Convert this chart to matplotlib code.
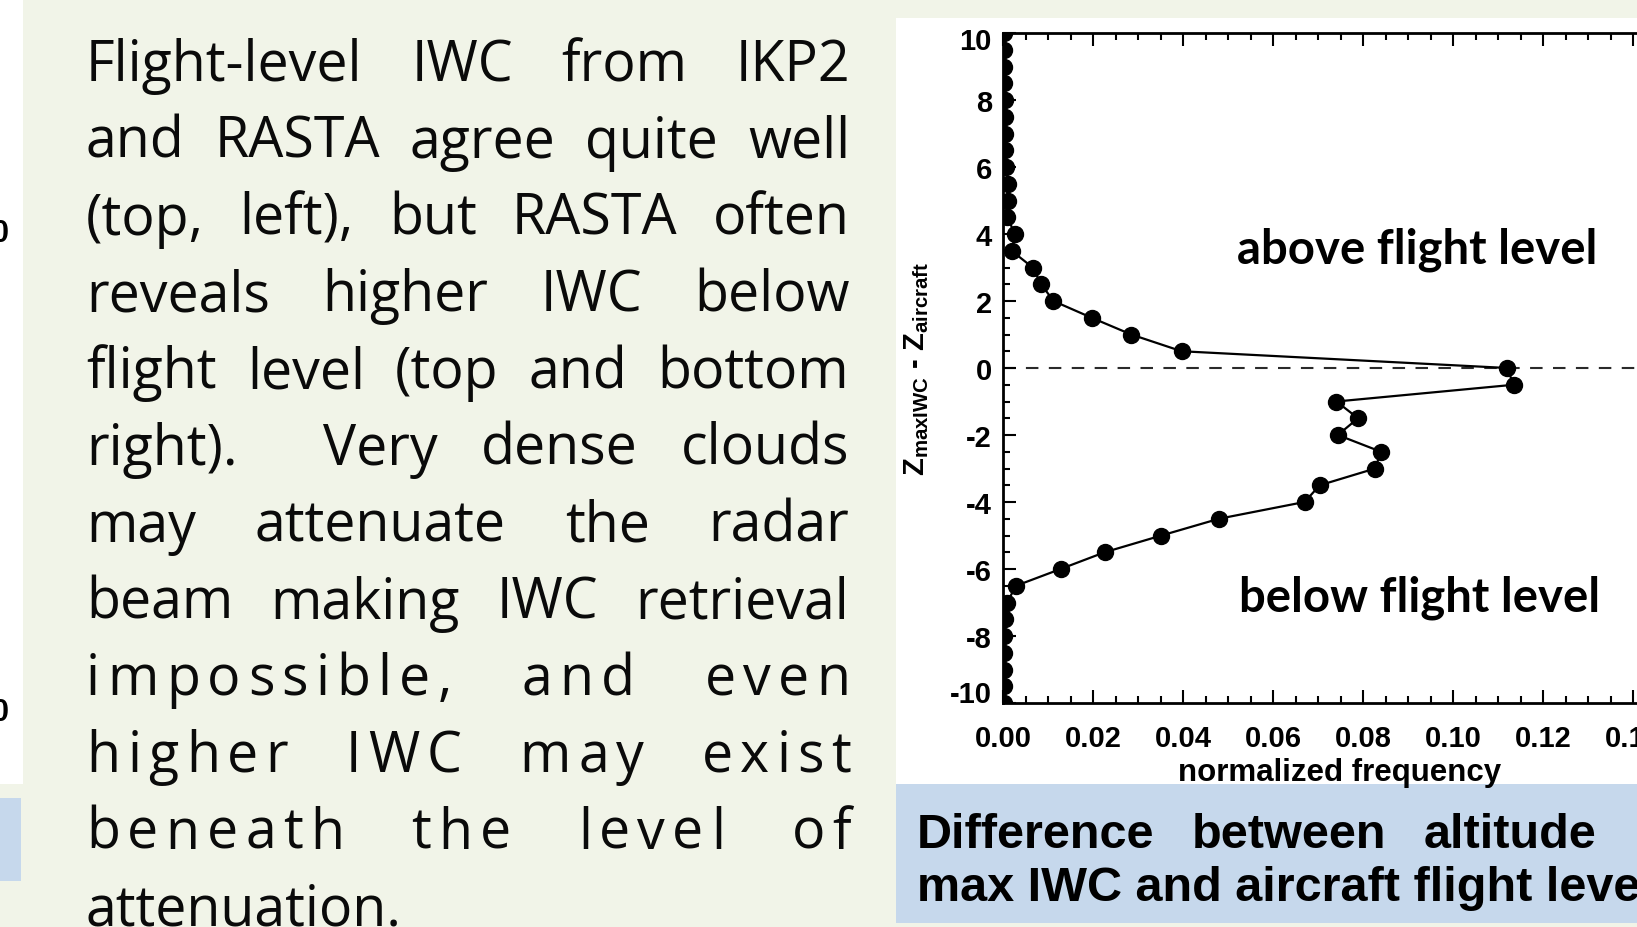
import matplotlib
matplotlib.use("Agg")
import matplotlib.pyplot as plt
from matplotlib import font_manager as fm
from matplotlib.ft2font import FT2Font
from matplotlib.patches import Rectangle
from matplotlib.transforms import ScaledTranslation
from matplotlib.ticker import MultipleLocator, FixedLocator, FormatStrFormatter

# ---------------- data ----------------
offset_km = [10.0, 9.5, 9.0, 8.5, 8.0, 7.5, 7.0, 6.5, 6.0, 5.5, 5.0, 4.5, 4.0,
             3.5, 3.0, 2.5, 2.0, 1.5, 1.0, 0.5, 0.0, -0.5, -1.0, -1.5, -2.0,
             -2.5, -3.0, -3.5, -4.0, -4.5, -5.0, -5.5, -6.0, -6.5, -7.0, -7.5,
             -8.0, -8.5, -9.0, -9.5, -10.0]
norm_freq = [0.0002, 0.0003, 0.0003, 0.0003, 0.0004, 0.0004, 0.0005, 0.0005,
             0.0006, 0.0010, 0.0010, 0.0009, 0.0027, 0.0019, 0.0066, 0.0085,
             0.0112, 0.0197, 0.0285, 0.0397, 0.1120, 0.1135, 0.0741, 0.0789,
             0.0744, 0.0840, 0.0827, 0.0704, 0.0670, 0.0480, 0.0352, 0.0226,
             0.0128, 0.0029, 0.0009, 0.0004, 0.0003, 0.0003, 0.0003, 0.0003,
             0.0002]
x_ticks = [0.00, 0.02, 0.04, 0.06, 0.08, 0.10, 0.12, 0.14, 0.16]
y_ticks = [-10, -8, -6, -4, -2, 0, 2, 4, 6, 8, 10]

x_label = "normalized frequency"
y_label = r"$\mathbf{Z_{maxIWC}}$ - $\mathbf{Z_{aircraft}}$"
label_above = "above flight level"
label_below = "below flight level"

body_lines = [
    "Flight-level IWC from IKP2",
    "and RASTA agree quite well",
    "(top, left), but RASTA often",
    "reveals higher IWC below",
    "flight level (top and bottom",
    "right).  Very dense clouds",
    "may attenuate the radar",
    "beam making IWC retrieval",
    "impossible, and even",
    "higher IWC may exist",
    "beneath the level of",
    "attenuation.",
]
body_letter_spaced = [False] * 8 + [True] * 3 + [False]
body_justified = [True] * 11 + [False]

caption_line1 = "Difference between altitude"
caption_line2 = "max IWC and aircraft flight level"

# ---------------- figure ----------------
W_PX, H_PX, DPI = 1637, 928, 100
plt.rcParams["axes.unicode_minus"] = False
plt.rcParams["mathtext.fontset"] = "custom"
plt.rcParams["mathtext.bf"] = "Liberation Sans:bold"
plt.rcParams["mathtext.rm"] = "Liberation Sans:bold"

BG = "#F1F4E8"
BLUE = "#C6D8EC"

fig = plt.figure(figsize=(W_PX / DPI, H_PX / DPI), dpi=DPI)
fig.patch.set_facecolor(BG)


def fx(px):
    return px / W_PX


def fy(py):
    return 1 - py / H_PX


def frect(x0, y0, x1, y1, color):
    r = Rectangle((fx(x0), fy(y1)), fx(x1) - fx(x0), fy(y0) - fy(y1),
                  transform=fig.transFigure, facecolor=color, edgecolor="none",
                  zorder=-10)
    fig.add_artist(r)


# panels
frect(0, 0, 23, 785, "white")
frect(0, 799, 21, 882, BLUE)
frect(896, 19, W_PX + 5, 785, "white")
frect(896, 785, W_PX + 5, 924, BLUE)

# partial labels at the far left
for yy in (234, 713):
    fig.text(fx(9), fy(yy), "0", ha="right", va="center", fontsize=22,
             fontweight="bold", family="Liberation Sans")

# ---------------- justified body text ----------------
BODY_PT = 40
body_fp = fm.FontProperties(family="Open Sans", weight="normal", size=BODY_PT)
body_path = fm.findfont(body_fp)
ft = FT2Font(body_path, hinting_factor=1)
ft.set_size(BODY_PT, DPI)


def adv(ch):
    g = ft.load_char(ord(ch))
    return g.linearHoriAdvance / 65536.0


def wwidth(s):
    return sum(adv(c) for c in s)


X0, X1 = 86, 851
BASE0, LEAD = 81, 76.8
LETTER_EXTRA = 7.0
TEXT_COLOR = "#0a0a0a"
fp_draw = fm.FontProperties(fname=body_path, size=BODY_PT)

for i, line in enumerate(body_lines):
    base = BASE0 + i * LEAD
    if body_letter_spaced[i]:
        chars = list(line)
        nat = sum(adv(c) for c in chars)
        nspace = line.count(" ")
        ngaps = len(chars) - 1
        sp_extra = ((X1 - X0) - nat - LETTER_EXTRA * ngaps) / max(nspace, 1)
        x = X0
        for c in chars:
            if c != " ":
                fig.text(fx(x), fy(base), c, fontproperties=fp_draw,
                         ha="left", va="baseline", color=TEXT_COLOR)
                x += adv(c) + LETTER_EXTRA
            else:
                x += adv(c) + LETTER_EXTRA + sp_extra
    else:
        tokens = line.split(" ")
        widths = [wwidth(t) for t in tokens]
        ngaps = len(tokens) - 1
        sp = adv(" ")
        if body_justified[i] and ngaps > 0:
            gap = ((X1 - X0) - sum(widths)) / ngaps
        else:
            gap = sp
        x = X0
        for t, w in zip(tokens, widths):
            if t:
                fig.text(fx(x), fy(base), t, fontproperties=fp_draw,
                         ha="left", va="baseline", color=TEXT_COLOR)
            x += w + gap

# ---------------- caption ----------------
CAP_PT = 35
cap_fp = fm.FontProperties(family="Liberation Sans", weight="bold", size=CAP_PT)
cap_path = fm.findfont(cap_fp)
ftc = FT2Font(cap_path, hinting_factor=1)
ftc.set_size(CAP_PT, DPI)


def cadv(s):
    return sum(ftc.load_char(ord(c)).linearHoriAdvance / 65536.0 for c in s)


CX0, CW1 = 917, 681
words = caption_line1.split(" ")
cw = [cadv(w) for w in words]
cgap = (CW1 - sum(cw)) / (len(words) - 1)
x = CX0
for w, wd in zip(words, cw):
    fig.text(fx(x), fy(848), w, fontproperties=cap_fp, ha="left", va="baseline")
    x += wd + cgap
fig.text(fx(CX0), fy(901), caption_line2, fontproperties=cap_fp, ha="left",
         va="baseline")

# ---------------- chart ----------------
ax_left, ax_top, ax_bottom = 1003, 34, 704
x_max = 0.16
px_per_unit = 4500.0
ax_w = x_max * px_per_unit
ax = fig.add_axes([fx(ax_left), fy(ax_bottom), ax_w / W_PX,
                   (ax_bottom - ax_top) / H_PX])
ax.set_facecolor("white")

ax.axhline(0, color="#2a2a2a", lw=1.5, dashes=(6.0, 5.0), zorder=1)
ax.plot(norm_freq, offset_km, color="black", lw=1.6, marker="o",
        markersize=11.5, markerfacecolor="black", markeredgecolor="black",
        zorder=3)

ax.set_xlim(0, x_max)
ax.set_ylim(-10, 10)
ax.xaxis.set_major_locator(FixedLocator(x_ticks))
ax.yaxis.set_major_locator(FixedLocator(y_ticks))
ax.xaxis.set_minor_locator(MultipleLocator(0.005))
ax.yaxis.set_minor_locator(MultipleLocator(0.5))
ax.xaxis.set_major_formatter(FormatStrFormatter("%.2f"))
ax.yaxis.set_major_formatter(FormatStrFormatter("%d"))

ax.tick_params(which="both", direction="in", top=True, right=True,
               width=1.5, color="black")
ax.tick_params(which="major", length=9.5)
ax.tick_params(which="minor", length=5)
ax.tick_params(axis="x", pad=15)
ax.tick_params(axis="y", pad=8)
for lab in ax.get_xticklabels() + ax.get_yticklabels():
    lab.set_fontfamily("Liberation Sans")
    lab.set_fontweight("bold")
    lab.set_fontsize(21)
# end labels are nudged inside the axis extent, as in the source figure
ylabs = ax.get_yticklabels()
ylabs[0].set_va("center")
ylabs[0].set_transform(ylabs[0].get_transform()
                       + ScaledTranslation(0, 0.09, fig.dpi_scale_trans))
ylabs[-1].set_va("center")
ylabs[-1].set_transform(ylabs[-1].get_transform()
                        + ScaledTranslation(0, -0.08, fig.dpi_scale_trans))
for s in ax.spines.values():
    s.set_linewidth(2.0)

ax.set_xlabel(x_label, fontsize=22.5, fontweight="bold", family="Liberation Sans")
ax.xaxis.set_label_coords((1340 - ax_left) / ax_w, (ax_bottom - 773) / (ax_bottom - ax_top))
ax.xaxis.label.set_va("center")
ax.set_ylabel(y_label, fontsize=21, fontweight="bold", family="Liberation Sans")
ax.yaxis.set_label_coords((917 - ax_left) / ax_w, 0.5)
ax.yaxis.label.set_va("center")

fig.text(fx(1237), fy(264), label_above, fontsize=34, fontweight="bold",
         family="Lato", ha="left", va="baseline")
fig.text(fx(1239), fy(612), label_below, fontsize=34, fontweight="bold",
         family="Lato", ha="left", va="baseline")

fig.savefig("out.png", dpi=DPI, facecolor=fig.get_facecolor())
